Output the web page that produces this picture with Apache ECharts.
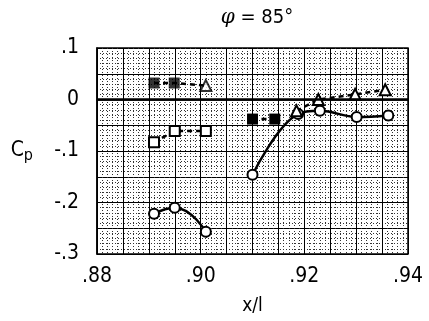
<!DOCTYPE html>
<html>
<head>
<meta charset="utf-8">
<script src="https://cdn.jsdelivr.net/npm/echarts@6/dist/echarts.min.js"></script>
<style>html,body{margin:0;padding:0;background:#fff}#c{width:429px;height:321px}</style>
</head>
<body>
<div id="c"></div>
<script>
// ---- data ----
const xTicks = [0.88, 0.90, 0.92, 0.94];
const yTicks = [0.1, 0, -0.1, -0.2, -0.3];

const topLeftX = [0.891, 0.8949, 0.901];
const topLeftY = [0.032, 0.032, 0.027];

const midLeftX = [0.891, 0.895, 0.901];
const midLeftY = [-0.083, -0.061, -0.061];

const lowLeftX = [0.891, 0.895, 0.901];
const lowLeftY = [-0.222, -0.210, -0.257];

const rightSolidX = [0.910, 0.9188, 0.923, 0.9301, 0.9362];
const rightSolidY = [-0.146, -0.028, -0.022, -0.034, -0.031];

const rightSquareX = [0.910, 0.9143];
const rightSquareY = [-0.038, -0.038];

const rightTriX = [0.9185, 0.9227, 0.9298, 0.9356];
const rightTriY = [-0.022, 0.0, 0.010, 0.019];

const titleSymbol = 'φ';
const titleRest = ' = 85°';
const xName = 'x/l';

// ---- build ----
const zip = (xs, ys) => xs.map((x, i) => [x, ys[i]]);
const FONT = '"Liberation Sans Narrow", "DejaVu Sans Condensed", "Liberation Sans", sans-serif';
const openStyle = { color: '#000', borderColor: '#000', borderWidth: 2.2 };

const chart = echarts.init(document.getElementById('c'), null, { renderer: 'canvas' });

function xLabel(v) {
  const hit = xTicks.find(t => Math.abs(t - v) < 1e-6);
  return hit === undefined ? '' : hit.toFixed(2).replace('0.', '.');
}
function yLabel(v) {
  const hit = yTicks.find(t => Math.abs(t - v) < 1e-6);
  if (hit === undefined) return '';
  if (hit === 0) return '0';
  return (hit < 0 ? '-' : '') + Math.abs(hit).toFixed(1).replace('0.', '.');
}

chart.setOption({
  animation: false,
  backgroundColor: '#fff',
  title: {
    text: '{i|' + titleSymbol + '}{n|' + titleRest + '}', left: 252, top: 3, textAlign: 'center',
    textStyle: { fontWeight: 'normal', rich: {
      i: { fontFamily: '"DejaVu Serif", serif', fontStyle: 'italic', fontWeight: 'normal', fontSize: 20, color: '#000' },
      n: { fontFamily: FONT, fontWeight: 'normal', fontSize: 20, color: '#000' }
    } }
  },
  grid: { left: 97, right: 21, top: 48, bottom: 63, show: true, borderColor: '#000', borderWidth: 1.5, backgroundColor: 'transparent' },
  xAxis: {
    type: 'value', min: 0.88, max: 0.94, interval: 0.005,
    name: xName, nameLocation: 'middle', nameGap: 43,
    nameTextStyle: { fontFamily: FONT, fontSize: 19, color: '#000' },
    axisLine: { show: true, lineStyle: { color: '#000', width: 1.5 } },
    axisTick: { show: false },
    axisLabel: { formatter: xLabel, fontFamily: FONT, fontSize: 21, color: '#000', margin: 12, showMinLabel: true, showMaxLabel: true },
    splitLine: { show: true, lineStyle: { color: '#000', width: 1 } },
    minorTick: { show: false, splitNumber: 5 },
    minorSplitLine: { show: true, lineStyle: { color: '#333', width: 1, type: [1, 2] } }
  },
  yAxis: {
    type: 'value', min: -0.3, max: 0.1, interval: 0.05,
    name: '{c|C}{p|p}', nameLocation: 'middle', nameRotate: 0, nameGap: 64,
    nameTextStyle: { rich: {
      c: { fontFamily: FONT, fontSize: 21, color: '#000' },
      p: { fontFamily: FONT, fontSize: 16, color: '#000', padding: [10, 0, 0, 0] }
    } },
    axisLine: { show: true, lineStyle: { color: '#000', width: 1.5 } },
    axisTick: { show: false },
    axisLabel: { formatter: yLabel, fontFamily: FONT, fontSize: 21, color: '#000', margin: 18 },
    splitLine: { show: true, lineStyle: { color: '#000', width: 1 } },
    minorTick: { show: false, splitNumber: 5 },
    minorSplitLine: { show: true, lineStyle: { color: '#333', width: 1, type: [1, 2] } }
  },
  series: [
    {
      type: 'line', data: zip(topLeftX, topLeftY), showSymbol: false, symbol: 'none',
      lineStyle: { color: '#000', width: 2.5, type: [5, 4] },
      markLine: { silent: true, symbol: 'none', label: { show: false },
        lineStyle: { color: '#000', width: 2.5, type: 'solid' }, data: [{ yAxis: 0 }] }
    },
    {
      type: 'scatter', data: zip(topLeftX.slice(0, 2), topLeftY.slice(0, 2)),
      symbol: 'rect', symbolSize: 11, itemStyle: { color: '#000' }
    },
    {
      type: 'scatter', data: zip(topLeftX.slice(2), topLeftY.slice(2)),
      symbol: 'emptyTriangle', symbolSize: 11, itemStyle: openStyle
    },
    {
      type: 'line', data: zip(midLeftX, midLeftY), symbol: 'emptyRect', symbolSize: 10,
      itemStyle: openStyle, lineStyle: { color: '#000', width: 2.5, type: [5, 4] }
    },
    {
      type: 'line', data: zip(lowLeftX, lowLeftY), symbol: 'emptyCircle', symbolSize: 10, smooth: 0.5,
      itemStyle: openStyle, lineStyle: { color: '#000', width: 2.5 }
    },
    {
      type: 'line', data: zip(rightSolidX, rightSolidY), symbol: 'emptyCircle', symbolSize: 10, smooth: 0.4,
      itemStyle: openStyle, lineStyle: { color: '#000', width: 2.5 }
    },
    {
      type: 'line', data: zip(rightSquareX, rightSquareY), symbol: 'rect', symbolSize: 11,
      itemStyle: { color: '#000' }, lineStyle: { color: '#000', width: 2.5, type: [5, 4] }
    },
    {
      type: 'line', data: zip(rightTriX, rightTriY), symbol: 'emptyTriangle', symbolSize: 11,
      itemStyle: openStyle, lineStyle: { color: '#000', width: 2.5, type: [5, 4] }
    }
  ]
});
</script>
</body>
</html>
